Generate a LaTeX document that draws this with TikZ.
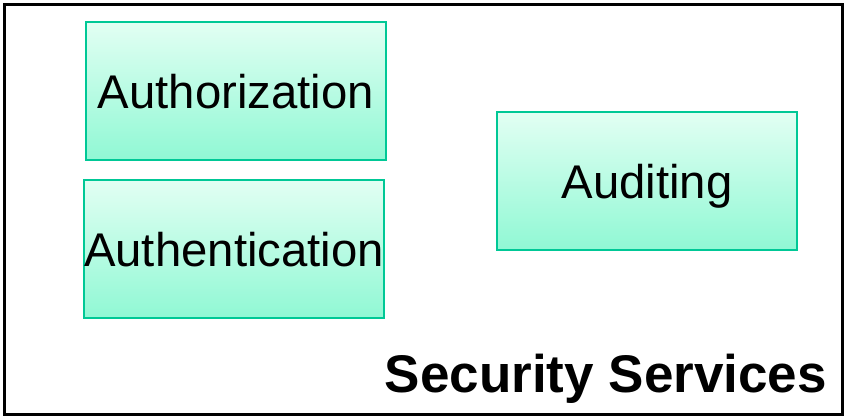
\documentclass[tikz,border=0pt]{standalone}
\usepackage{fontspec}
\setmainfont{Liberation Sans}
\usepackage{tikz}
\usetikzlibrary{positioning}

\definecolor{svcborder}{HTML}{00C896}
\definecolor{svctop}{HTML}{E2FFF3}
\definecolor{svcbottom}{HTML}{90F8D4}

\begin{document}
\begin{tikzpicture}[
        x=1pt, y=-1pt,
        service/.style={rectangle, draw=svcborder, line width=1.5pt, minimum width=300pt, minimum height=138pt, top color=svctop, bottom color=svcbottom, inner sep=0pt, text height=44pt, text depth=10pt, font=\fontsize{47.3}{50}\selectfont},
        frame/.style={draw=black, line width=3pt},
        title/.style={font=\fontsize{53}{56}\selectfont\bfseries, inner sep=0pt}
    ]
    \useasboundingbox (0,0) rectangle (846,418);

    % Outer frame
    \draw[frame] (4,4) rectangle (842,414);

    % Services
    \node[service] (authz) at (236,91) {Authorization};
    \node[service] (authn) at (234,249) {Authentication};
    \node[service] (audit) at (647,181) {Auditing};

    % Title
    \node[title, anchor=base east] (sec) at (827,392) {Security Services};

    \end{tikzpicture}
\end{document}
